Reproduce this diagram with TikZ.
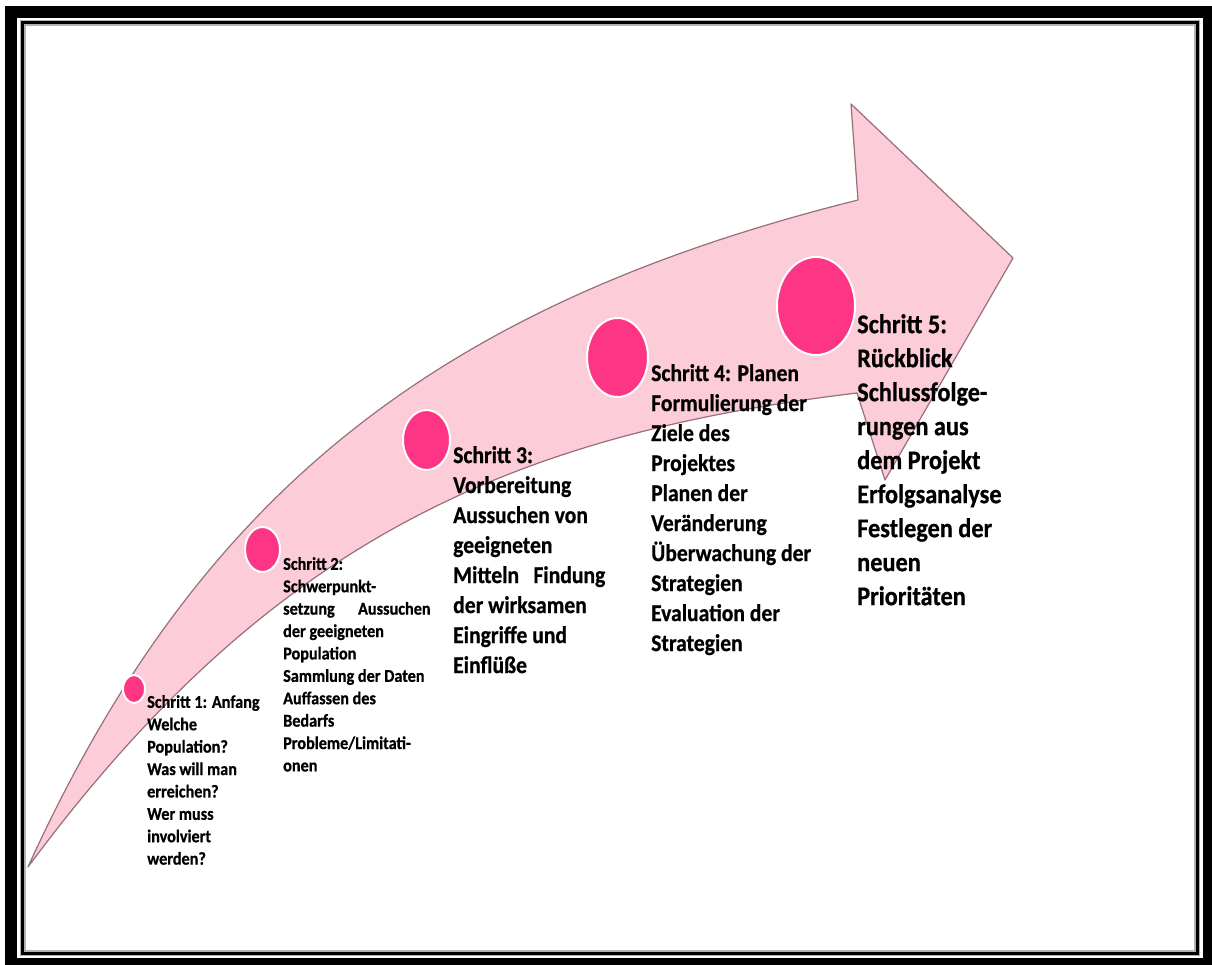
\documentclass[tikz,border=0pt]{standalone}
\usepackage{fontspec}
\setmainfont{Carlito}
\newfontfamily\stepfont{Carlito}[FakeStretch=0.9, BoldFeatures={FakeBold=0.7}]
\usetikzlibrary{shapes.geometric}

\definecolor{arrowpink}{RGB}{252,204,216}
\definecolor{arrowedge}{RGB}{150,112,122}
\definecolor{dotpink}{RGB}{254,52,132}

\begin{document}
\begin{tikzpicture}[
    x=1pt, y=-1pt,
    % Big curved arrow
    bigarrow/.style={fill=arrowpink, draw=arrowedge, line width=1.2pt, line join=round},
    % Milestone dots on the arrow
    dot/.style={ellipse, fill=dotpink, draw=white, line width=2pt, inner sep=0pt},
    % Step descriptions
    steptext/.style={anchor=north west, align=left, inner sep=0pt, text=black},
    smalltext/.style={steptext, font=\stepfont\fontsize{18}{22.4}\selectfont\bfseries},
    midtext/.style={steptext, font=\stepfont\fontsize{24}{30}\selectfont\bfseries},
    bigtext/.style={steptext, font=\stepfont\fontsize{27}{34}\selectfont\bfseries}
]

\useasboundingbox (0,0) rectangle (1212,965);
\clip (0,0) rectangle (1212,965);
\fill[white] (0,0) rectangle (1212,965);

% Double frame
\draw[line width=12pt] (10.5,12) rectangle (1209,964);
\draw[gray!60, line width=6pt] (22.5,23) rectangle (1197,953);
\draw[black, line width=3pt] (22.5,23) rectangle (1197,953);

% Arrow
\draw[bigarrow] (28,867) .. controls (198,493) and (438,305) .. (858,200)
    -- (851,104) -- (1013,258) -- (885,480) -- (857,393)
    .. controls (507,435) and (268,543) .. (28,867) -- cycle;

% Dots
\node[dot, minimum width=22pt, minimum height=28pt] (dot1) at (134,689) {};
\node[dot, minimum width=35pt, minimum height=45pt] (dot2) at (262.5,549.5) {};
\node[dot, minimum width=47pt, minimum height=60pt] (dot3) at (426.5,440) {};
\node[dot, minimum width=61pt, minimum height=79pt] (dot4) at (617.5,357.5) {};
\node[dot, minimum width=78pt, minimum height=98pt] (dot5) at (816,306) {};

% Steps
\node[smalltext] (step1) at (147,695) {Schritt 1: Anfang\\Welche\\Population?\\Was will man\\erreichen?\\Wer muss\\involviert\\werden?};
\node[smalltext] (step2) at (283,557) {Schritt 2:\\Schwerpunkt-\\setzung\hspace{1.3em}Aussuchen\\der geeigneten\\Population\\Sammlung der Daten\\Auffassen des\\Bedarfs\\Probleme/Limitati-\\onen};
\node[midtext] (step3) at (453,446) {Schritt 3:\\Vorbereitung\\Aussuchen von\\geeigneten\\Mitteln\hspace{0.6em}Findung\\der wirksamen\\Eingriffe und\\Einflüße};
\node[midtext] (step4) at (651,364) {Schritt 4: Planen\\Formulierung der\\Ziele des\\Projektes\\Planen der\\Veränderung\\Überwachung der\\Strategien\\Evaluation der\\Strategien};
\node[bigtext] (step5) at (857,314) {Schritt 5:\\Rückblick\\Schlussfolge-\\rungen aus\\dem Projekt\\Erfolgsanalyse\\Festlegen der\\neuen\\Prioritäten};

\end{tikzpicture}
\end{document}
